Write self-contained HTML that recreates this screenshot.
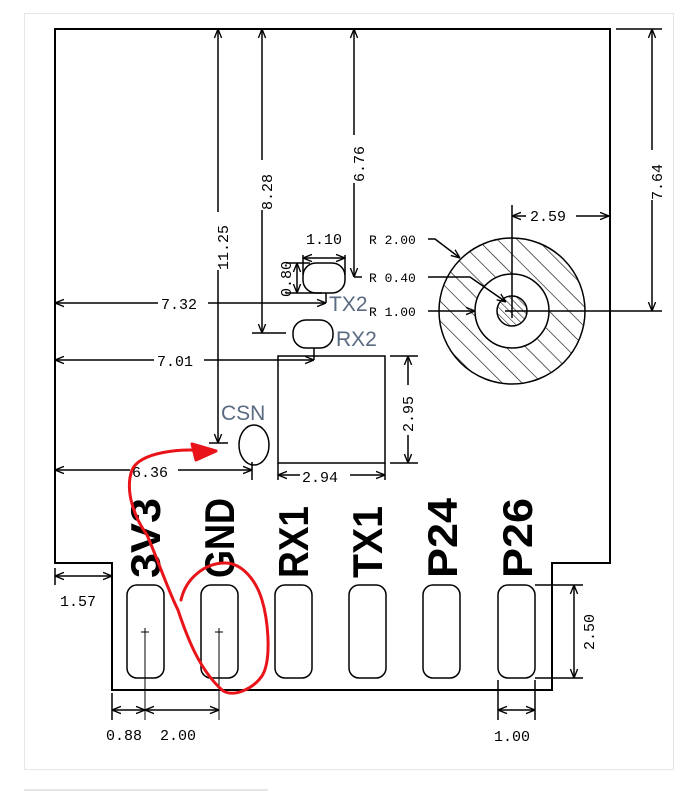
<!DOCTYPE html>
<html><head><meta charset="utf-8"><style>
html,body{margin:0;padding:0;background:#fff;}
svg{display:block}
.d{font-family:"Liberation Mono",monospace;font-size:15px;fill:#000}
.p{font-family:"Liberation Sans",sans-serif;font-weight:bold;font-size:42px;fill:#000}
.b{font-family:"Liberation Sans",sans-serif;font-size:21px;fill:#5a6a80}
</style></head><body>
<svg width="696" height="791" viewBox="0 0 696 791" xmlns="http://www.w3.org/2000/svg">
<defs>
<marker id="a" viewBox="0 0 10 10" refX="10" refY="5" markerWidth="9" markerHeight="9" orient="auto-start-reverse" markerUnits="userSpaceOnUse"><path d="M0,1 L10,5 L0,9" fill="none" stroke="#000" stroke-width="1.5"/></marker>
<pattern id="h" patternUnits="userSpaceOnUse" width="14" height="14" patternTransform="rotate(-45)"><line x1="0" y1="0" x2="0" y2="14" stroke="#000" stroke-width="1.2"/></pattern>
<pattern id="h2" patternUnits="userSpaceOnUse" width="5" height="5" patternTransform="rotate(-45)"><line x1="0" y1="0" x2="0" y2="5" stroke="#000" stroke-width="1"/></pattern>
</defs>
<rect x="24.5" y="13.5" width="649" height="756" fill="none" stroke="#e6e6e6" stroke-width="1"/>
<line x1="24" y1="790" x2="268" y2="790" stroke="#e6e6e6" stroke-width="2"/>
<g fill="none" stroke="#000" stroke-width="1.5">
<path d="M55,29 H610 V563 H552 V690 H112 V563 H55 Z" stroke-width="2"/>
<circle cx="512" cy="311" r="73" fill="url(#h)"/>
<circle cx="512" cy="311" r="37" fill="#fff"/>
<circle cx="512" cy="311" r="15" fill="url(#h2)"/>
<line x1="512" y1="205" x2="512" y2="318"/>
<line x1="505" y1="311" x2="662" y2="311"/>
<line x1="218" y1="29" x2="218" y2="443" marker-start="url(#a)" marker-end="url(#a)"/>
<line x1="209" y1="443" x2="228" y2="443"/>
<line x1="262" y1="29" x2="262" y2="333" marker-start="url(#a)" marker-end="url(#a)"/>
<line x1="252" y1="333" x2="286" y2="333"/>
<line x1="354" y1="29" x2="354" y2="277" marker-start="url(#a)" marker-end="url(#a)"/>
<line x1="354" y1="277" x2="362" y2="277"/>
<line x1="616" y1="29" x2="662" y2="29"/>
<line x1="652" y1="29" x2="652" y2="311" marker-start="url(#a)" marker-end="url(#a)"/>
<line x1="512" y1="216" x2="609" y2="216" marker-start="url(#a)" marker-end="url(#a)"/>
<rect x="303" y="263" width="42" height="30" rx="13"/>
<line x1="303" y1="258" x2="345" y2="258" marker-start="url(#a)" marker-end="url(#a)"/>
<line x1="303" y1="255" x2="303" y2="275"/><line x1="345" y1="255" x2="345" y2="275"/>
<line x1="286" y1="263" x2="310" y2="263"/><line x1="286" y1="293" x2="322" y2="293"/>
<line x1="297" y1="263" x2="297" y2="293" marker-start="url(#a)" marker-end="url(#a)"/>
<line x1="55" y1="303" x2="326" y2="303" marker-start="url(#a)" marker-end="url(#a)"/>
<line x1="326" y1="293" x2="326" y2="303"/>
<rect x="293" y="320" width="40" height="28" rx="13"/>
<line x1="55" y1="360" x2="314" y2="360" marker-start="url(#a)" marker-end="url(#a)"/>
<line x1="314" y1="348" x2="314" y2="360"/>
<rect x="278" y="356" width="107" height="107"/>
<line x1="390" y1="356" x2="418" y2="356"/><line x1="390" y1="463" x2="418" y2="463"/>
<line x1="408" y1="356" x2="408" y2="463" marker-start="url(#a)" marker-end="url(#a)"/>
<line x1="278" y1="463" x2="278" y2="480"/><line x1="385" y1="463" x2="385" y2="480"/>
<line x1="278" y1="475" x2="385" y2="475" marker-start="url(#a)" marker-end="url(#a)"/>
<ellipse cx="254" cy="445" rx="15" ry="20"/>
<line x1="55" y1="470" x2="252" y2="470" marker-start="url(#a)" marker-end="url(#a)"/>
<line x1="252" y1="462" x2="252" y2="480"/>
<path d="M428,239 H435 L460,258" marker-end="url(#a)"/>
<path d="M428,277 H470 L506,302" marker-end="url(#a)"/>
<line x1="428" y1="311" x2="475" y2="311" marker-end="url(#a)"/>
<rect x="127" y="585" width="37" height="93" rx="10"/>
<rect x="201" y="585" width="37" height="93" rx="10"/>
<rect x="275" y="585" width="37" height="93" rx="10"/>
<rect x="349" y="585" width="37" height="93" rx="10"/>
<rect x="423" y="585" width="37" height="93" rx="10"/>
<rect x="498" y="585" width="37" height="93" rx="10"/>
<g stroke-width="1"><line x1="141" y1="632" x2="149" y2="632"/><line x1="145" y1="628" x2="145" y2="720"/>
<line x1="215" y1="632" x2="223" y2="632"/><line x1="219" y1="628" x2="219" y2="720"/></g>
<line x1="112" y1="693" x2="112" y2="720"/>
<line x1="112" y1="710" x2="145" y2="710" marker-start="url(#a)" marker-end="url(#a)"/>
<line x1="145" y1="710" x2="219" y2="710" marker-start="url(#a)" marker-end="url(#a)"/>
<line x1="498" y1="680" x2="498" y2="720"/><line x1="535" y1="680" x2="535" y2="720"/>
<line x1="498" y1="710" x2="535" y2="710" marker-start="url(#a)" marker-end="url(#a)"/>
<line x1="535" y1="585" x2="583" y2="585"/><line x1="535" y1="678" x2="583" y2="678"/>
<line x1="574" y1="585" x2="574" y2="678" marker-start="url(#a)" marker-end="url(#a)"/>
<line x1="55" y1="568" x2="55" y2="585"/>
<line x1="55" y1="576" x2="112" y2="576" marker-start="url(#a)" marker-end="url(#a)"/>
</g>
<g class="d">
<rect x="210" y="212" width="16" height="58" fill="#fff"/>
<text transform="translate(228,270) rotate(-90)">11.25</text>
<rect x="254" y="160" width="16" height="50" fill="#fff"/>
<text transform="translate(272,210) rotate(-90)">8.28</text>
<rect x="346" y="135" width="16" height="48" fill="#fff"/>
<text transform="translate(364,182) rotate(-90)">6.76</text>
<rect x="644" y="150" width="16" height="50" fill="#fff"/>
<text transform="translate(662,200) rotate(-90)">7.64</text>
<rect x="526" y="208" width="50" height="16" fill="#fff"/>
<text x="530" y="221">2.59</text>
<text x="306" y="244">1.10</text>
<text transform="translate(291,297) rotate(-90)">0.80</text>
<rect x="158" y="296" width="50" height="16" fill="#fff"/>
<text x="161" y="309">7.32</text>
<rect x="154" y="352" width="50" height="16" fill="#fff"/>
<text x="157" y="366">7.01</text>
<rect x="400" y="385" width="16" height="50" fill="#fff"/>
<text transform="translate(413,432) rotate(-90)">2.95</text>
<rect x="300" y="468" width="50" height="16" fill="#fff"/>
<text x="302" y="482">2.94</text>
<rect x="130" y="462" width="48" height="16" fill="#fff"/>
<text x="132" y="477">6.36</text>
<text x="369" y="244" font-size="13">R 2.00</text>
<text x="369" y="282" font-size="13">R 0.40</text>
<text x="369" y="316" font-size="13">R 1.00</text>
<text x="60" y="606">1.57</text>
<text x="106" y="740">0.88</text>
<text x="160" y="740">2.00</text>
<text x="494" y="741">1.00</text>
<text transform="translate(594,650) rotate(-90)">2.50</text>
</g>
<text class="b" x="329" y="311">TX2</text>
<text class="b" x="336" y="346">RX2</text>
<text class="b" x="221" y="420">CSN</text>
<g class="p">
<text transform="translate(160,578) rotate(-90)" textLength="80" lengthAdjust="spacingAndGlyphs">3V3</text>
<text transform="translate(234,578) rotate(-90)" textLength="80" lengthAdjust="spacingAndGlyphs">GND</text>
<text transform="translate(308,578) rotate(-90)" textLength="72" lengthAdjust="spacingAndGlyphs">RX1</text>
<text transform="translate(382,578) rotate(-90)" textLength="72" lengthAdjust="spacingAndGlyphs">TX1</text>
<text transform="translate(457,578) rotate(-90)" textLength="80" lengthAdjust="spacingAndGlyphs">P24</text>
<text transform="translate(532,578) rotate(-90)" textLength="80" lengthAdjust="spacingAndGlyphs">P26</text>
</g>
<g fill="none" stroke="#e8141a" stroke-width="3" stroke-linecap="round" stroke-linejoin="round">
<path d="M208,451 C180,448 140,452 132,470 C124,492 136,520 147,535 C158,560 168,590 178,610 C188,640 200,670 222,690 C232,698 252,690 262,676 C272,660 268,620 262,600 C256,580 242,563 225,563 C205,563 186,578 181,600"/>
<path d="M192,444 L216,451 L196,460 Z" fill="#e8141a"/>
</g>
</svg>
</body></html>
